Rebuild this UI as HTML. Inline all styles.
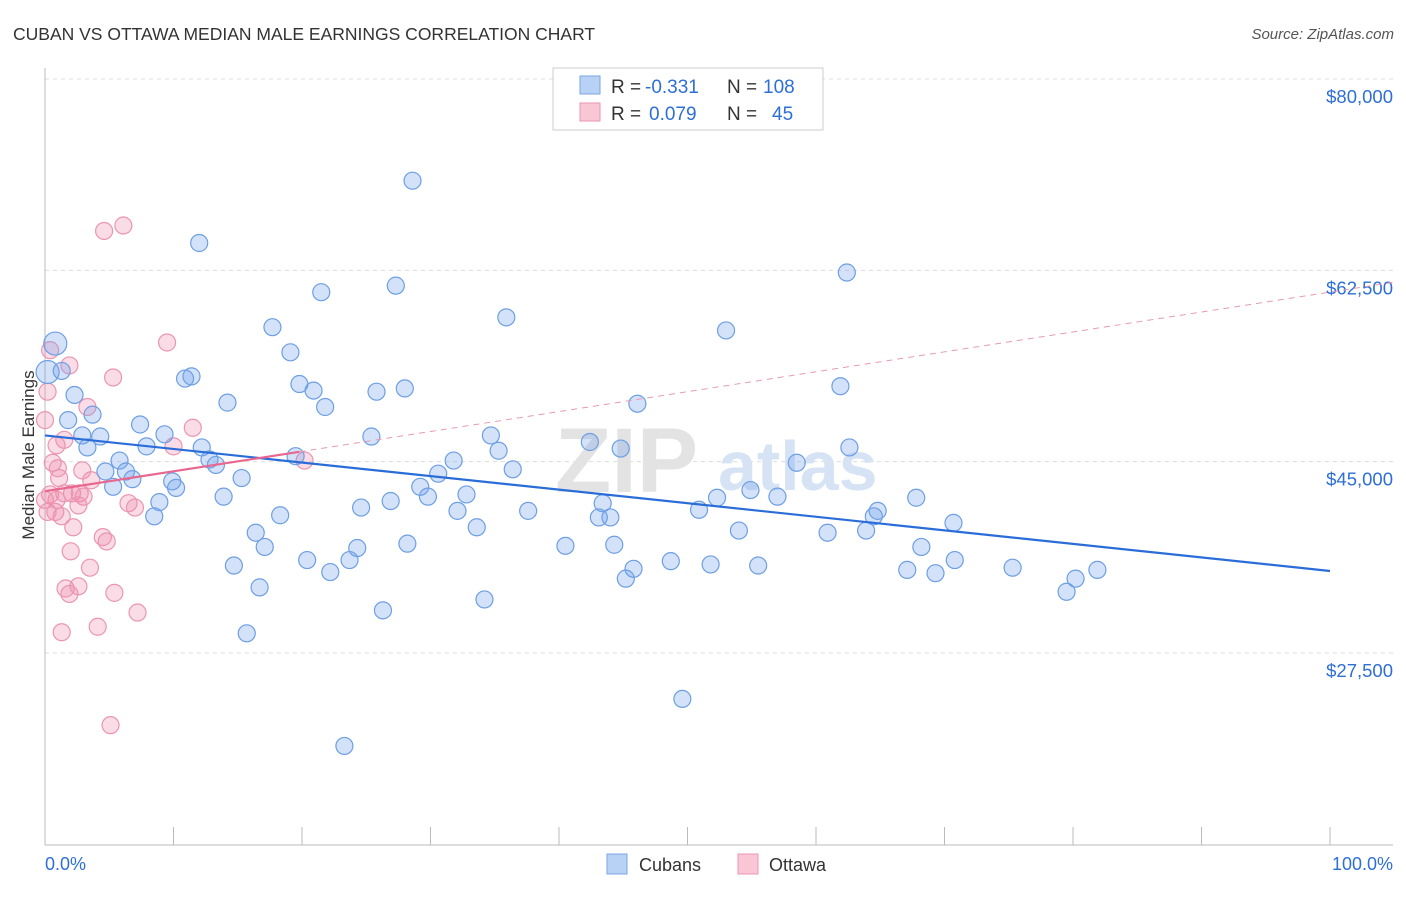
<!DOCTYPE html>
<html><head><meta charset="utf-8"><style>
body{margin:0;background:#fff;font-family:"Liberation Sans",sans-serif;}
svg text{font-family:"Liberation Sans",sans-serif;}
</style></head><body>
<svg id="chart" width="1406" height="892" viewBox="0 0 1406 892" xmlns="http://www.w3.org/2000/svg">
<text x="13" y="40" font-size="17.5" fill="#333">CUBAN VS OTTAWA MEDIAN MALE EARNINGS CORRELATION CHART</text>
<text x="1394" y="39" font-size="15" fill="#555" text-anchor="end" font-style="italic">Source: ZipAtlas.com</text>
<g id="grid"></g>
<g>
<text x="555" y="492" font-size="92" fill="#e3e3e3" font-family="Liberation Serif" font-weight="bold">ZIP</text>
<text x="718" y="490" font-size="70" fill="#d5e3f5" font-weight="bold">atlas</text>
</g>
<g id="axes"></g>
<g id="pinkpts"></g>
<g id="bluepts"></g>
<g id="trends"></g>
<text transform="translate(34,455) rotate(-90)" font-size="17" fill="#333" text-anchor="middle">Median Male Earnings</text>
<g>
<rect x="553" y="68" width="270" height="62" fill="#fff" stroke="#ccc"/>
<rect x="580" y="76" width="20" height="18" fill="#b8d2f5" stroke="#7aa6e3"/>
<rect x="580" y="103" width="20" height="18" fill="#f9c6d6" stroke="#eb95b1"/>
<text x="611" y="93" font-size="19" fill="#333">R =</text>
<text x="645" y="93" font-size="19" fill="#2e6fd6">-0.331</text>
<text x="727" y="93" font-size="19" fill="#333">N =</text>
<text x="763" y="93" font-size="19" fill="#2e6fd6">108</text>
<text x="611" y="120" font-size="19" fill="#333">R =</text>
<text x="649" y="120" font-size="19" fill="#2e6fd6">0.079</text>
<text x="727" y="120" font-size="19" fill="#333">N =</text>
<text x="772" y="120" font-size="19" fill="#2e6fd6">45</text>
</g>
<g>
<rect x="607" y="854" width="20" height="20" fill="#b8d2f5" stroke="#7aa6e3"/>
<text x="639" y="871" font-size="18" fill="#333">Cubans</text>
<rect x="738" y="854" width="20" height="20" fill="#f9c6d6" stroke="#eb95b1"/>
<text x="769" y="871" font-size="18" fill="#333">Ottawa</text>
</g>
</svg>
<script>
const yTicks=[80000,62500,45000,27500];
const yTickLabels=["$80,000","$62,500","$45,000","$27,500"];
const xTickLabels=["0.0%","100.0%"];
const blueX=[0.8,1.3,2.3,1.8,3.7,2.9,4.3,3.3,7.4,7.9,9.3,5.8,4.7,6.3,6.8,5.3,9.9,10.2,8.9,8.5,10.9,11.4,12.0,14.2,12.2,12.8,13.3,15.3,13.9,14.7,16.7,15.7,16.4,17.1,18.3,17.7,19.1,19.8,20.9,21.8,21.5,19.5,20.4,22.2,23.7,24.3,23.3,24.6,25.4,25.8,26.3,26.9,27.3,28.0,28.6,28.2,29.2,29.8,30.6,31.8,32.1,32.8,33.6,34.2,34.7,35.3,35.9,36.4,37.6,40.5,42.4,43.4,43.1,44.0,44.3,44.8,45.2,45.8,46.1,48.7,49.6,50.9,51.8,52.3,53.0,54.0,54.9,55.5,57.0,58.5,60.9,61.9,62.4,62.6,63.9,64.5,64.8,67.1,67.8,68.2,69.3,70.7,70.8,75.3,79.5,80.2,81.9,0.2];
const blueY=[55.8,53.3,51.1,48.8,49.3,47.4,47.3,46.3,48.4,46.4,47.5,45.1,44.1,44.1,43.4,42.7,43.2,42.6,41.3,40.0,52.6,52.8,65.0,50.4,46.3,45.2,44.7,43.5,41.8,35.5,33.5,29.3,38.5,37.2,40.1,57.3,55.0,52.1,51.5,50.0,60.5,45.5,36.0,34.9,36.0,37.1,19.0,40.8,47.3,51.4,31.4,41.4,61.1,51.7,70.7,37.5,42.7,41.8,43.9,45.1,40.5,42.0,39.0,32.4,47.4,46.0,58.2,44.3,40.5,37.3,46.8,41.2,39.9,39.9,37.4,46.2,34.3,35.2,50.3,35.9,23.3,40.6,35.6,41.7,57.0,38.7,42.4,35.5,41.8,44.9,38.5,51.9,62.3,46.3,38.7,40.0,40.5,35.1,41.7,37.2,34.8,39.4,36.0,35.3,33.1,34.3,35.1,53.2];
const pinkX=[0.4,1.9,0.2,0,0.9,1.5,0.6,1.1,0.4,1.5,2.1,2.7,3.0,2.6,0.8,1.3,2.2,2.0,3.5,1.6,1.9,2.6,4.5,4.8,5.4,4.1,1.3,7.2,5.1,4.6,6.1,5.3,3.3,9.5,11.5,10.0,6.5,7.0,20.2,3.6,0.9,0.2,2.9,1.0,0];
const pinkY=[55.2,53.8,51.4,48.8,46.5,47.0,44.9,43.5,42.0,42.1,42.1,42.1,41.8,41.0,40.4,40.0,39.0,36.8,35.3,33.4,32.9,33.6,38.1,37.7,33.0,29.9,29.4,31.2,20.9,66.1,66.6,52.7,50.0,55.9,48.1,46.4,41.2,40.8,45.1,43.3,41.5,40.4,44.2,44.4,41.5];
const blueTrendX=[0,100];const blueTrendY=[47.4,35.0];
const pinkTrendX=[0,19.8,104.9];const pinkTrendY=[42.3,45.9,61.4];
const NS="http://www.w3.org/2000/svg";
const xs=p=>45+p*12.85;
const ys=k=>79+(80-k)/17.5*191.33;
function mk(tag,attrs,parent){const e=document.createElementNS(NS,tag);for(const k in attrs)e.setAttribute(k,attrs[k]);parent.appendChild(e);return e;}
const grid=document.getElementById('grid'),axes=document.getElementById('axes');
yTicks.forEach((v,i)=>{const y=ys(v/1000);
 const l=mk('line',{x1:45,x2:1393,y1:y,y2:y,stroke:'#ddd','stroke-dasharray':'4,4'},grid);
 
 
 const t=mk('text',{x:1393,y:y+24,'font-size':18.5,fill:'#2e6fd6','text-anchor':'end'},axes);t.textContent=yTickLabels[i];
 
 
});
let a=mk('line',{x1:45,x2:45,y1:68,y2:845,stroke:'#bbb'},axes);


a=mk('line',{x1:45,x2:1393,y1:845,y2:845,stroke:'#bbb'},axes);


for(let i=0;i<=10;i++){const x=xs(i*10);const t=mk('line',{x1:x,x2:x,y1:827,y2:845,stroke:'#bbb'},axes);
 
 }
[[0,'start',45],[1,'end',1393]].forEach(([i,anc,x])=>{const t=mk('text',{x:x,y:870,'font-size':18,fill:'#2e6fd6','text-anchor':anc},axes);t.textContent=xTickLabels[i];
 
 });
const pp=document.getElementById('pinkpts'),bp=document.getElementById('bluepts');
pinkX.forEach((x,i)=>{const c=mk('circle',{cx:xs(x),cy:ys(pinkY[i]),r:8.5,fill:'rgba(240,140,172,0.3)',stroke:'#eb95b1','stroke-width':1.2},pp);
 
 });
blueX.forEach((x,i)=>{const big=x<1;const c=mk('circle',{cx:xs(x),cy:ys(blueY[i]),r:big?11.5:8.5,fill:'rgba(110,160,235,0.3)',stroke:'#6d9fe3','stroke-width':1.2},bp);
 
 });
const tr=document.getElementById('trends');
let t1=mk('line',{x1:xs(blueTrendX[0]),y1:ys(blueTrendY[0]),x2:xs(blueTrendX[1]),y2:ys(blueTrendY[1]),stroke:'#2a6dd9','stroke-width':2.2},tr);


let t2=mk('line',{x1:xs(pinkTrendX[1]),y1:ys(pinkTrendY[1]),x2:xs(pinkTrendX[2]),y2:ys(pinkTrendY[2]),stroke:'#e69ab3','stroke-width':1,'stroke-dasharray':'6,5'},tr);


let t3=mk('line',{x1:xs(pinkTrendX[0]),y1:ys(pinkTrendY[0]),x2:xs(pinkTrendX[1]),y2:ys(pinkTrendY[1]),stroke:'#e8678f','stroke-width':2.2},tr);


</script>
</body></html>
